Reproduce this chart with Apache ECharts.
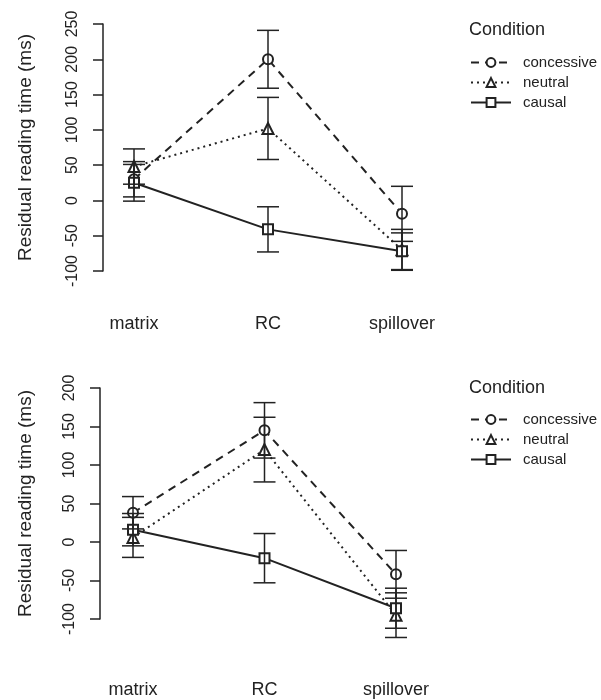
<!DOCTYPE html>
<html>
<head>
<meta charset="utf-8">
<script src="https://cdn.jsdelivr.net/npm/echarts@6/dist/echarts.min.js"></script>
<style>
  html, body { margin: 0; padding: 0; background: #fff; }
  #main { width: 601px; height: 700px; }
</style>
</head>
<body>
<div id="main"></div>
<script>
    'use strict';

    // regions of the sentence
    var categories = ['matrix', 'RC', 'spillover'];
    var conditions = ['concessive', 'neutral', 'causal'];

    // top panel: means and error half-widths (ms)
    var topConcessive = [30, 200, -19];
    var topConcessiveErr = [25, 41, 39];
    var topNeutral = [48, 102, -70];
    var topNeutralErr = [25, 44, 29];
    var topCausal = [25, -41, -72];
    var topCausalErr = [26, 32, 26];

    // bottom panel
    var botConcessive = [38, 145, -42];
    var botConcessiveErr = [21, 36, 31];
    var botNeutral = [6, 120, -95];
    var botNeutralErr = [26, 42, 29];
    var botCausal = [16, -21, -86];
    var botCausalErr = [21, 32, 26];

    // y axis ranges
    var topYMin = -100, topYMax = 250;
    var botYMin = -100, botYMax = 200;
    var yStep = 50;

    var ink = '#222';
    var font = '"Liberation Sans", Arial, Helvetica, sans-serif';
    var symbols = ['emptyCircle', 'emptyTriangle', 'emptyRect'];
    var dashes = [[8, 6], [2, 4], 'solid'];

    function errBar(params, api) {
        var x = api.value(0);
        var lo = api.coord([x, api.value(1)]);
        var hi = api.coord([x, api.value(2)]);
        var w = 11;
        var st = { stroke: ink, lineWidth: 1.5 };
        return {
            type: 'group',
            children: [
                { type: 'line', shape: { x1: lo[0], y1: lo[1], x2: hi[0], y2: hi[1] }, style: st },
                { type: 'line', shape: { x1: lo[0] - w, y1: lo[1], x2: lo[0] + w, y2: lo[1] }, style: st },
                { type: 'line', shape: { x1: hi[0] - w, y1: hi[1], x2: hi[0] + w, y2: hi[1] }, style: st }
            ]
        };
    }

    function panelSeries(idx, means, errs) {
        var out = [];
        means.forEach(function (m, i) {
            out.push({
                type: 'line',
                name: conditions[i],
                xAxisIndex: idx,
                yAxisIndex: idx,
                data: m,
                symbol: symbols[i],
                symbolSize: i === 1 ? 11 : 10,
                clip: false,
                z: 2,
                lineStyle: { color: ink, width: 2, type: dashes[i] },
                itemStyle: { color: ink, borderWidth: 1.5 },
                emphasis: { disabled: true }
            });
            out.push({
                type: 'custom',
                name: conditions[i],
                xAxisIndex: idx,
                yAxisIndex: idx,
                clip: false,
                z: 3,
                renderItem: errBar,
                data: m.map(function (v, j) {
                    return [j, v - errs[i][j], v + errs[i][j]];
                })
            });
        });
        return out;
    }

    function xAxis(idx, margin) {
        return {
            type: 'category',
            gridIndex: idx,
            data: categories,
            boundaryGap: false,
            axisLine: { show: false },
            axisTick: { show: false },
            axisLabel: { margin: margin, color: ink, fontSize: 18, fontFamily: font }
        };
    }

    function yAxis(idx, min, max, offset, nameGap) {
        return {
            type: 'value',
            gridIndex: idx,
            min: min,
            max: max,
            interval: yStep,
            offset: offset,
            name: 'Residual reading time (ms)',
            nameLocation: 'middle',
            nameRotate: 90,
            nameGap: nameGap,
            nameTextStyle: { color: ink, fontSize: 19, fontFamily: font },
            splitLine: { show: false },
            axisLine: { show: true, lineStyle: { color: ink, width: 1.5 } },
            axisTick: { show: true, length: 10, lineStyle: { color: ink, width: 1.5 } },
            axisLabel: { rotate: 90, margin: 22, color: ink, fontSize: 16, fontFamily: font }
        };
    }

    function legend(top) {
        return {
            orient: 'vertical',
            left: 470,
            top: top,
            padding: 0,
            itemWidth: 40,
            itemHeight: 11,
            itemGap: 5,
            selectedMode: false,
            data: conditions,
            textStyle: { color: ink, fontSize: 15, fontFamily: font, padding: [0, 0, 0, 7] }
        };
    }

    var chart = echarts.init(document.getElementById('main'));
    chart.setOption({
        animation: false,
        backgroundColor: '#fff',
        title: [
            { text: 'Condition', left: 469, top: 21, padding: 0,
              textStyle: { color: ink, fontSize: 18, fontWeight: 'normal', fontFamily: font } },
            { text: 'Condition', left: 469, top: 379, padding: 0,
              textStyle: { color: ink, fontSize: 18, fontWeight: 'normal', fontFamily: font } }
        ],
        legend: [legend(55), legend(412)],
        grid: [
            { left: 134, top: 24, width: 268, height: 247 },
            { left: 133, top: 388, width: 263, height: 231 }
        ],
        xAxis: [xAxis(0, 44), xAxis(1, 62)],
        yAxis: [
            yAxis(0, topYMin, topYMax, 31, 68),
            yAxis(1, botYMin, botYMax, 33, 65)
        ],
        series: panelSeries(0, [topConcessive, topNeutral, topCausal],
                               [topConcessiveErr, topNeutralErr, topCausalErr])
            .concat(panelSeries(1, [botConcessive, botNeutral, botCausal],
                                   [botConcessiveErr, botNeutralErr, botCausalErr]))
    });
</script>
</body>
</html>
